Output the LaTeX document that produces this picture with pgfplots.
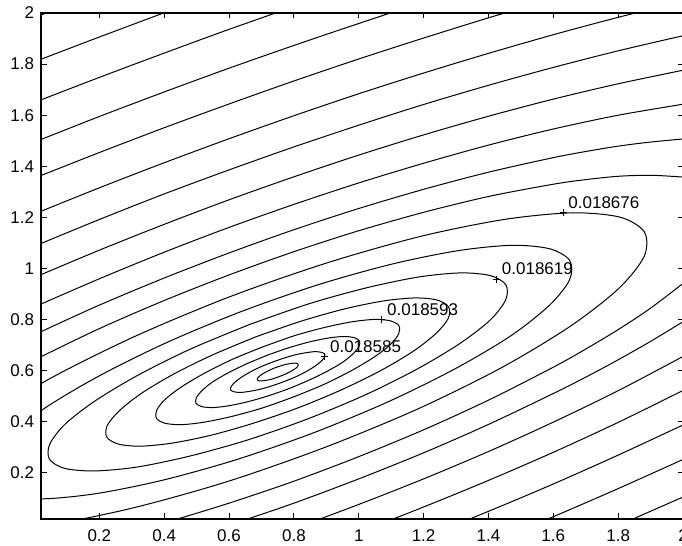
\documentclass[border=0pt]{standalone}
\usepackage{fontspec}
\setmainfont{Liberation Sans}
\usepackage{pgfplots}
\pgfplotsset{compat=1.18}
\newcommand{\lblfont}{\fontsize{8.5bp}{10bp}\selectfont}
\pgfplotsset{
  ctr/.style={black, line width=0.5bp, smooth, mark=none},
}
\begin{document}
\begin{tikzpicture}
\path[use as bounding box] (-20.5bp,-13.5bp) rectangle (320.5bp,259.5bp);
\begin{axis}[
  at={(0,0)}, anchor=south west,
  width=321bp, height=253bp, scale only axis,
  xmin=0.02, xmax=2, ymin=0.02, ymax=2,
  xtick={0.2,0.4,0.6,0.8,1,1.2,1.4,1.6,1.8,2},
  ytick={0.2,0.4,0.6,0.8,1,1.2,1.4,1.6,1.8,2},
  tick align=inside, major tick length=2.75bp,
  axis line style={line width=0.75bp},
  tick style={line width=0.5bp, black},
  tick label style={font=\lblfont},
  /pgf/number format/assume math mode=true,
  xticklabel style={yshift=-1.75bp},
  clip=true,
]
% closed contours around the minimum
\addplot[ctr] coordinates {(0.742,0.612)(0.726,0.603)(0.712,0.594)(0.700,0.585)(0.692,0.577)(0.687,0.570)(0.687,0.565)(0.691,0.561)(0.699,0.560)(0.711,0.562)(0.725,0.565)(0.741,0.571)(0.758,0.579)(0.774,0.587)(0.788,0.596)(0.800,0.605)(0.809,0.613)(0.813,0.620)(0.813,0.626)(0.809,0.629)(0.801,0.630)(0.789,0.628)(0.775,0.625)(0.759,0.619)(0.742,0.612)};
\addplot[ctr] coordinates {(0.732,0.633)(0.695,0.614)(0.662,0.593)(0.635,0.572)(0.616,0.553)(0.606,0.537)(0.605,0.525)(0.615,0.518)(0.634,0.515)(0.661,0.519)(0.694,0.527)(0.730,0.540)(0.768,0.557)(0.805,0.576)(0.838,0.597)(0.865,0.618)(0.884,0.637)(0.894,0.653)(0.895,0.665)(0.885,0.672)(0.866,0.675)(0.839,0.671)(0.806,0.663)(0.770,0.650)(0.732,0.633)};
\addplot[ctr] coordinates {(0.718,0.661)(0.654,0.627)(0.596,0.591)(0.549,0.556)(0.516,0.522)(0.499,0.494)(0.498,0.473)(0.515,0.460)(0.548,0.456)(0.594,0.462)(0.652,0.477)(0.716,0.500)(0.782,0.529)(0.846,0.563)(0.904,0.599)(0.951,0.634)(0.984,0.668)(1.001,0.696)(1.002,0.717)(0.985,0.730)(0.952,0.734)(0.906,0.728)(0.848,0.713)(0.784,0.690)(0.718,0.661)};
\addplot[ctr] coordinates {(0.703,0.693)(0.607,0.643)(0.522,0.589)(0.452,0.536)(0.402,0.487)(0.377,0.446)(0.376,0.414)(0.401,0.395)(0.450,0.389)(0.519,0.398)(0.604,0.420)(0.699,0.453)(0.797,0.497)(0.893,0.547)(0.978,0.601)(1.048,0.654)(1.098,0.703)(1.123,0.744)(1.124,0.776)(1.099,0.795)(1.050,0.801)(0.981,0.792)(0.896,0.770)(0.801,0.737)(0.703,0.693)};
\addplot[ctr] coordinates {(0.683,0.733)(0.549,0.662)(0.429,0.587)(0.330,0.512)(0.261,0.443)(0.224,0.385)(0.223,0.340)(0.259,0.313)(0.327,0.305)(0.425,0.317)(0.545,0.348)(0.678,0.396)(0.817,0.457)(0.951,0.528)(1.071,0.603)(1.170,0.678)(1.239,0.747)(1.276,0.805)(1.277,0.850)(1.241,0.877)(1.173,0.885)(1.075,0.873)(0.956,0.842)(0.822,0.794)(0.683,0.733)};
\addplot[ctr] coordinates {(0.661,0.780)(0.481,0.685)(0.321,0.584)(0.189,0.484)(0.095,0.392)(0.047,0.313)(0.046,0.254)(0.093,0.218)(0.185,0.208)(0.315,0.223)(0.475,0.265)(0.654,0.328)(0.839,0.410)(1.019,0.505)(1.179,0.606)(1.311,0.706)(1.405,0.798)(1.453,0.877)(1.454,0.936)(1.407,0.972)(1.315,0.983)(1.185,0.967)(1.025,0.925)(0.846,0.862)(0.661,0.780)};
\addplot[ctr] coordinates {(-0.150,0.235)(-0.151,0.159)(-0.090,0.113)(0.027,0.099)(0.194,0.120)(0.399,0.173)(0.627,0.254)(0.864,0.359)(1.093,0.480)(1.299,0.609)(1.468,0.736)(1.587,0.855)(1.650,0.955)(1.651,1.031)(1.590,1.077)(1.473,1.091)(1.306,1.070)(1.101,1.017)(0.873,0.936)(0.636,0.831)(0.407,0.710)(0.201,0.581)(0.032,0.454)(-0.087,0.335)(-0.150,0.235)};
\addplot[ctr] coordinates {(-0.381,0.047)(-0.306,-0.011)(-0.158,-0.028)(0.052,-0.002)(0.309,0.065)(0.596,0.167)(0.893,0.299)(1.181,0.450)(1.440,0.612)(1.651,0.773)(1.801,0.921)(1.880,1.047)(1.881,1.143)(1.806,1.201)(1.658,1.218)(1.448,1.192)(1.191,1.126)(0.904,1.023)(0.607,0.892)(0.319,0.740)(0.060,0.578)(-0.151,0.417)(-0.301,0.269)(-0.380,0.143)(-0.381,0.047)};
% outer contours, upper parts
\addplot[ctr] coordinates {(0.02,0.655)(0.2,0.765)(0.4,0.875)(0.6,0.975)(0.8,1.066)(1.0,1.148)(1.2,1.220)(1.4,1.282)(1.6,1.330)(1.7,1.348)(1.8,1.361)(1.9,1.365)(2.0,1.358)};
\addplot[ctr] coordinates {(0.02,0.753)(0.2,0.857)(0.4,0.963)(0.6,1.061)(0.8,1.152)(1.0,1.235)(1.2,1.310)(1.4,1.377)(1.6,1.434)(1.7,1.458)(1.8,1.479)(1.9,1.495)(2.0,1.507)};
\addplot[ctr] coordinates {(0.02,0.861)(0.2,0.960)(0.4,1.064)(0.6,1.161)(0.8,1.251)(1.0,1.335)(1.2,1.412)(1.4,1.483)(1.6,1.546)(1.8,1.600)(2.0,1.643)};
\addplot[ctr] coordinates {(0.02,0.976)(0.2,1.072)(0.4,1.173)(0.6,1.269)(0.8,1.359)(1.0,1.444)(1.2,1.523)(1.4,1.596)(1.6,1.663)(1.8,1.723)(2.0,1.776)};
\addplot[ctr] coordinates {(0.02,1.098)(0.2,1.192)(0.4,1.292)(0.6,1.386)(0.8,1.476)(1.0,1.561)(1.2,1.642)(1.4,1.717)(1.6,1.787)(1.8,1.852)(2.0,1.911)};
\addplot[ctr] coordinates {(0.02,1.224)(0.2,1.316)(0.4,1.414)(0.6,1.508)(0.8,1.598)(1.0,1.684)(1.2,1.765)(1.4,1.842)(1.6,1.915)(1.8,1.983)(2.0,2.046)};
\addplot[ctr] coordinates {(0.02,1.364)(0.2,1.454)(0.4,1.551)(0.6,1.644)(0.8,1.734)(1.0,1.820)(1.2,1.902)(1.4,1.981)(1.6,2.056)};
\addplot[ctr] coordinates {(0.02,1.505)(0.2,1.595)(0.4,1.691)(0.6,1.784)(0.8,1.873)(1.0,1.959)(1.2,2.043)};
\addplot[ctr] coordinates {(0.02,1.660)(0.2,1.748)(0.4,1.843)(0.6,1.936)(0.8,2.025)};
\addplot[ctr] coordinates {(0.02,1.819)(0.2,1.906)(0.4,2.001)};
\addplot[ctr] coordinates {(0.02,1.992)(0.2,2.079)};
% outer contours, lower parts
\addplot[ctr] coordinates {(0.02,-0.113)(0.2,-0.063)(0.4,0.005)(0.6,0.082)(0.8,0.168)(1.0,0.264)(1.2,0.369)(1.4,0.485)(1.6,0.614)(1.7,0.685)(1.8,0.761)(1.9,0.845)(2.0,0.942)};
\addplot[ctr] coordinates {(0.2,-0.155)(0.4,-0.084)(0.6,-0.004)(0.8,0.082)(1.0,0.177)(1.2,0.279)(1.4,0.390)(1.6,0.511)(1.7,0.575)(1.8,0.643)(1.9,0.715)(2.0,0.792)};
\addplot[ctr] coordinates {(0.4,-0.185)(0.6,-0.104)(0.8,-0.017)(1.0,0.077)(1.2,0.177)(1.4,0.284)(1.6,0.399)(1.8,0.522)(2.0,0.656)};
\addplot[ctr] coordinates {(0.6,-0.212)(0.8,-0.125)(1.0,-0.032)(1.2,0.067)(1.4,0.171)(1.6,0.281)(1.8,0.398)(2.0,0.523)};
\addplot[ctr] coordinates {(0.8,-0.242)(1.0,-0.149)(1.2,-0.052)(1.4,0.050)(1.6,0.157)(1.8,0.270)(2.0,0.388)};
\addplot[ctr] coordinates {(1.0,-0.272)(1.2,-0.176)(1.4,-0.076)(1.6,0.029)(1.8,0.139)(2.0,0.253)};
\addplot[ctr] coordinates {(1.2,-0.313)(1.4,-0.214)(1.6,-0.112)(1.8,-0.005)(2.0,0.106)};
% contour labels
\addplot[only marks, mark=+, mark size=1.75bp, black, line width=0.5bp]
  coordinates {(0.895,0.657)(1.071,0.799)(1.425,0.959)(1.630,1.218)};
\node[anchor=west, inner sep=0pt, xshift=2.5bp, yshift=5bp, font=\lblfont] at (axis cs:0.895,0.657) {0.018585};
\node[anchor=west, inner sep=0pt, xshift=2.5bp, yshift=5bp, font=\lblfont] at (axis cs:1.071,0.799) {0.018593};
\node[anchor=west, inner sep=0pt, xshift=2.5bp, yshift=5bp, font=\lblfont] at (axis cs:1.425,0.959) {0.018619};
\node[anchor=west, inner sep=0pt, xshift=2.5bp, yshift=5bp, font=\lblfont] at (axis cs:1.630,1.218) {0.018676};
\end{axis}
\end{tikzpicture}
\end{document}
